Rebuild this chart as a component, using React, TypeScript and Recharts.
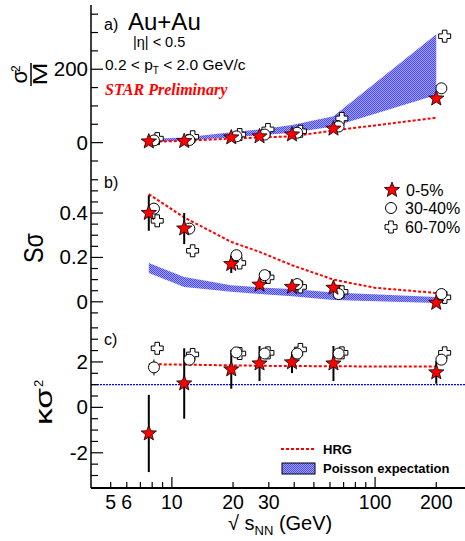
import React from 'react'
import {
  ComposedChart,
  Scatter,
  Line,
  Area,
  XAxis,
  YAxis,
  ErrorBar,
  ReferenceLine,
} from 'recharts'

const W = 465
const FONT = 'Liberation Sans, Arial, sans-serif'

// collision energies (GeV)
const energies = [7.7, 11.5, 19.6, 27, 39, 62.4, 200]
const hrgEnergies = [7.7, 11.5, 19.6, 27, 39, 62.4, 100, 200]

// a) sigma^2 / M
const varCentral = [3, 4, 14, 17, 22, 38, 120]
const varMid = [6, 7, 17, 22, 27, 44, 148]
const varPeriph = [11, 16, 22, 36, 31, 66, 290]
const varHrg = [2, 5, 11, 14, 17, 33, 47, 68]
const varPoissonLo = [2, 6, 14, 20, 27, 44, 130]
const varPoissonHi = [10, 14, 28, 36, 48, 72, 295]

// b) S sigma
const skewCentral = [0.4, 0.33, 0.17, 0.077, 0.067, 0.063, -0.005]
const skewCentralErr = [0.08, 0.07, 0.04, 0.02, 0.015, 0.02, 0.012]
const skewMid = [0.42, 0.33, 0.21, 0.12, 0.08, 0.035, 0.035]
const skewPeriph = [0.365, 0.23, 0.175, 0.11, 0.067, 0.045, 0.02]
const skewHrg = [0.485, 0.38, 0.27, 0.225, 0.165, 0.1, 0.063, 0.04]
const skewPoissonLo = [0.13, 0.067, 0.045, 0.035, 0.025, 0.008, -0.005]
const skewPoissonHi = [0.175, 0.112, 0.075, 0.065, 0.058, 0.042, 0.022]

// c) kappa sigma^2
const kurtCentral = [-1.15, 1.05, 1.67, 1.93, 1.98, 1.93, 1.54]
const kurtCentralErr = [1.7, 1.55, 0.85, 0.77, 0.47, 0.77, 0.5]
const kurtMid = [1.76, 2.1, 2.42, 2.37, 2.37, 2.37, 2.1]
const kurtMidErr = [0.35, 0.2, 0.15, 0.15, 0.12, 0.12, 0.15]
const kurtPeriph = [2.6, 2.33, 2.37, 2.4, 2.55, 2.4, 2.4]
const kurtHrg = [1.9, 1.88, 1.85, 1.83, 1.82, 1.81, 1.8, 1.8]
const kurtPoisson = 1

// axes
const X_DOMAIN: [number, number] = [4, 277]
const xTicks = [5, 6, 7, 8, 9, 10, 20, 30, 40, 50, 60, 70, 80, 90, 100, 200]
const xMajor = [10, 100]
const xLabelTicks = [5, 6, 10, 20, 30, 100, 200]
const aTicks = [-50, 0, 50, 100, 150, 200, 250, 300, 350]
const aLabels: Record<string, string> = { 0: '0', 200: '200' }
const bTicks = [-0.05, 0, 0.05, 0.1, 0.15, 0.2, 0.25, 0.3, 0.35, 0.4, 0.45, 0.5, 0.55]
const bLabels: Record<string, string> = { 0: '0', 0.2: '0.2', 0.4: '0.4' }
const cTicks = [-3, -2.5, -2, -1.5, -1, -0.5, 0, 0.5, 1, 1.5, 2, 2.5, 3, 3.5]
const cLabels: Record<string, string> = { '-2': '-2', 0: '0', 2: '2' }

// small horizontal offsets used in the original so markers don't overlap
const CIRCLE_SHIFT = 1.06
const CROSS_SHIFT = 1.1

const pts = (xs: number[], ys: number[], shift = 1, errs?: number[]) =>
  xs.map((e, i) => ({ x: e * shift, y: ys[i], err: errs ? errs[i] : 0 }))
const band = (lo: number[], hi: number[]) =>
  energies.map((e, i) => ({ x: e, band: [lo[i], hi[i]] }))

function starPath(cx: number, cy: number, R = 8, r = 3.4) {
  let d = ''
  for (let i = 0; i < 10; i++) {
    const rad = i % 2 === 0 ? R : r
    const a = -Math.PI / 2 + (i * Math.PI) / 5
    d += (i ? 'L' : 'M') + (cx + rad * Math.cos(a)).toFixed(2) + ',' + (cy + rad * Math.sin(a)).toFixed(2)
  }
  return d + 'Z'
}

function crossPath(cx: number, cy: number, b = 6, a = 2.3) {
  return `M${cx - a},${cy - b}H${cx + a}V${cy - a}H${cx + b}V${cy + a}H${cx + a}V${cy + b}H${cx - a}V${cy + a}H${cx - b}V${cy - a}H${cx - a}Z`
}

const Star = ({ cx, cy }: any) => <path d={starPath(cx, cy)} fill="#ff0000" stroke="#000" strokeWidth={0.8} />
const Circ = ({ cx, cy }: any) => <circle cx={cx} cy={cy} r={5.5} fill="#fff" stroke="#000" strokeWidth={1} />
const Cross = ({ cx, cy }: any) => <path d={crossPath(cx, cy)} fill="#fff" stroke="#000" strokeWidth={1} />

function makeXTick(side: 'top' | 'bottom', showLabels: boolean) {
  return (props: any) => {
    const { x, y, payload } = props
    const v = payload.value
    const len = xMajor.includes(v) ? 11 : 6
    const dir = side === 'bottom' ? -1 : 1
    return (
      <g>
        <line x1={x} x2={x} y1={y} y2={y + dir * len} stroke="#000" strokeWidth={1.2} />
        {showLabels && xLabelTicks.includes(v) && (
          <text x={x} y={y + 21} textAnchor="middle" fontSize={19.5} fontFamily={FONT} fill="#000">
            {v}
          </text>
        )}
      </g>
    )
  }
}

function makeYTick(labels: Record<string, string>) {
  return (props: any) => {
    const { x, y, payload } = props
    const lab = labels[String(payload.value)]
    return (
      <g>
        <line x1={x} x2={x + (lab ? 12 : 7)} y1={y} y2={y} stroke="#000" strokeWidth={1.2} />
        {lab && (
          <text x={x - 3} y={y + 7} textAnchor="end" fontSize={20.5} fontFamily={FONT} fill="#000">
            {lab}
          </text>
        )}
      </g>
    )
  }
}

function Panel({ top, height, marginTop, bottomAxisHeight, yDomain, yTicks, yLabels, showXLabels, children }: any) {
  return (
    <div style={{ position: 'absolute', left: 0, top }}>
      <ComposedChart width={W} height={height} margin={{ top: marginTop, right: 0, bottom: 0, left: 0 }}>
        <XAxis
          dataKey="x"
          type="number"
          scale="log"
          domain={X_DOMAIN}
          allowDataOverflow
          ticks={xTicks}
          interval={0}
          tickSize={0}
          tickMargin={0}
          height={bottomAxisHeight}
          axisLine={{ stroke: '#000', strokeWidth: 2 }}
          tickLine={false}
          tick={makeXTick('bottom', showXLabels)}
        />
        <XAxis
          xAxisId="top"
          orientation="top"
          dataKey="x"
          type="number"
          scale="log"
          domain={X_DOMAIN}
          allowDataOverflow
          ticks={xTicks}
          interval={0}
          tickSize={0}
          tickMargin={0}
          height={0}
          axisLine={{ stroke: '#000', strokeWidth: 2 }}
          tickLine={false}
          tick={makeXTick('top', false)}
        />
        <YAxis
          dataKey="y"
          type="number"
          domain={yDomain}
          allowDataOverflow
          ticks={yTicks}
          interval={0}
          width={91}
          tickSize={0}
          tickMargin={0}
          axisLine={{ stroke: '#000', strokeWidth: 1.5 }}
          tickLine={false}
          tick={makeYTick(yLabels)}
        />
        {children}
      </ComposedChart>
    </div>
  )
}

const hrgLine = (vals: number[]) => (
  <Line
    data={pts(hrgEnergies, vals)}
    dataKey="y"
    type="linear"
    stroke="#ff0000"
    strokeWidth={2}
    strokeDasharray="3 2"
    dot={false}
    isAnimationActive={false}
  />
)

const poissonArea = (lo: number[], hi: number[]) => (
  <Area
    data={band(lo, hi)}
    dataKey="band"
    type="linear"
    stroke="none"
    fill="url(#poissonHatch)"
    fillOpacity={1}
    isAnimationActive={false}
  />
)

export default function App() {
  return (
    <div style={{ position: 'absolute', left: 0, top: 0, width: W, height: 541, background: '#fff', fontFamily: FONT }}>
      <Panel top={0} height={172} marginTop={5} bottomAxisHeight={0} yDomain={[-80, 375]} yTicks={aTicks} yLabels={aLabels} showXLabels={false}>
        {poissonArea(varPoissonLo, varPoissonHi)}
        {hrgLine(varHrg)}
        <Scatter data={pts(energies, varPeriph, CROSS_SHIFT)} dataKey="y" shape={Cross} isAnimationActive={false} />
        <Scatter data={pts(energies, varMid, CIRCLE_SHIFT)} dataKey="y" shape={Circ} isAnimationActive={false} />
        <Scatter data={pts(energies, varCentral)} dataKey="y" shape={Star} isAnimationActive={false} />
      </Panel>

      <Panel top={172} height={152} marginTop={0} bottomAxisHeight={0} yDomain={[-0.1, 0.585]} yTicks={bTicks} yLabels={bLabels} showXLabels={false}>
        {poissonArea(skewPoissonLo, skewPoissonHi)}
        {hrgLine(skewHrg)}
        <Scatter data={pts(energies, skewPeriph, CROSS_SHIFT)} dataKey="y" shape={Cross} isAnimationActive={false} />
        <Scatter data={pts(energies, skewMid, CIRCLE_SHIFT)} dataKey="y" shape={Circ} isAnimationActive={false} />
        <Scatter data={pts(energies, skewCentral, 1, skewCentralErr)} dataKey="y" shape={Star} isAnimationActive={false}>
          <ErrorBar dataKey="err" direction="y" width={0} stroke="#000" strokeWidth={2} />
        </Scatter>
      </Panel>

      <Panel top={324} height={217} marginTop={0} bottomAxisHeight={53} yDomain={[-3.55, 3.67]} yTicks={cTicks} yLabels={cLabels} showXLabels>
        <ReferenceLine y={kurtPoisson} stroke="#0000ff" strokeWidth={1.3} strokeDasharray="2 1" />
        {hrgLine(kurtHrg)}
        <Scatter data={pts(energies, kurtPeriph, CROSS_SHIFT)} dataKey="y" shape={Cross} isAnimationActive={false} />
        <Scatter data={pts(energies, kurtMid, CIRCLE_SHIFT, kurtMidErr)} dataKey="y" shape={Circ} isAnimationActive={false}>
          <ErrorBar dataKey="err" direction="y" width={0} stroke="#000" strokeWidth={1} />
        </Scatter>
        <Scatter data={pts(energies, kurtCentral, 1, kurtCentralErr)} dataKey="y" shape={Star} isAnimationActive={false}>
          <ErrorBar dataKey="err" direction="y" width={0} stroke="#000" strokeWidth={2} />
        </Scatter>
      </Panel>

      <svg width={W} height={541} style={{ position: 'absolute', left: 0, top: 0, pointerEvents: 'none' }} fontFamily={FONT}>
        <defs>
          <pattern id="poissonHatch" width="2" height="2" patternUnits="userSpaceOnUse">
            <rect width="2" height="2" fill="#a4a4ff" />
            <rect width="1" height="1" fill="#4848ff" />
            <rect x="1" y="1" width="1" height="1" fill="#4848ff" />
          </pattern>
        </defs>

        {/* panel a annotations */}
        <text x={104} y={30} fontSize={16}>a)</text>
        <text x={128} y={30} fontSize={24}>Au+Au</text>
        <text x={133} y={47} fontSize={14.5}>|η| &lt; 0.5</text>
        <text x={105} y={70} fontSize={15.5}>
          0.2 &lt; p<tspan dy={4} fontSize={10}>T</tspan>
          <tspan dy={-4}> &lt; 2.0 GeV/c</tspan>
        </text>
        <text x={105} y={95} fontSize={16} fontFamily="Liberation Serif, Times New Roman, serif" fontStyle="italic" fontWeight="bold" fill="#ff0000">
          STAR Preliminary
        </text>
        <text x={104} y={188} fontSize={16}>b)</text>
        <text x={104} y={345} fontSize={16}>c)</text>

        {/* centrality legend */}
        <Star cx={392} cy={190} />
        <text x={406} y={196} fontSize={16}>0-5%</text>
        <Circ cx={391} cy={208} />
        <text x={405} y={214} fontSize={16}>30-40%</text>
        <Cross cx={391} cy={227} />
        <text x={405} y={233} fontSize={16}>60-70%</text>

        {/* model legend */}
        <line x1={281} x2={315} y1={449} y2={449} stroke="#ff0000" strokeWidth={2} strokeDasharray="3 2" />
        <text x={323} y={453.5} fontSize={13} fontWeight="bold">HRG</text>
        <rect x={282} y={463} width={33} height={11} fill="url(#poissonHatch)" stroke="#000" strokeWidth={1} />
        <text x={323} y={472.5} fontSize={13} fontWeight="bold">Poisson expectation</text>

        {/* y titles */}
        <g transform="translate(31,74) rotate(-90)">
          <text x={-9.5} y={-4} fontSize={22}>σ</text>
          <text x={2} y={-11} fontSize={12}>2</text>
          <line x1={-12} x2={11} y1={0} y2={0} stroke="#000" strokeWidth={1.5} />
          <text x={0} y={16} fontSize={20} textAnchor="middle" textLength={23} lengthAdjust="spacingAndGlyphs">M</text>
        </g>
        <g transform="translate(33,248) rotate(-90)">
          <text x={-15} y={10} fontSize={27} textLength={30} lengthAdjust="spacingAndGlyphs">Sσ</text>
        </g>
        <g transform="translate(44,401) rotate(-90)">
          <text x={-24} y={8} fontSize={23} textLength={37} lengthAdjust="spacingAndGlyphs">κσ</text>
          <text x={14} y={-1} fontSize={13}>2</text>
        </g>

        {/* x title */}
        <text x={228} y={530} fontSize={20}>
          √ s<tspan dy={5} fontSize={13}>NN</tspan>
          <tspan dy={-5}> (GeV)</tspan>
        </text>
      </svg>
    </div>
  )
}
